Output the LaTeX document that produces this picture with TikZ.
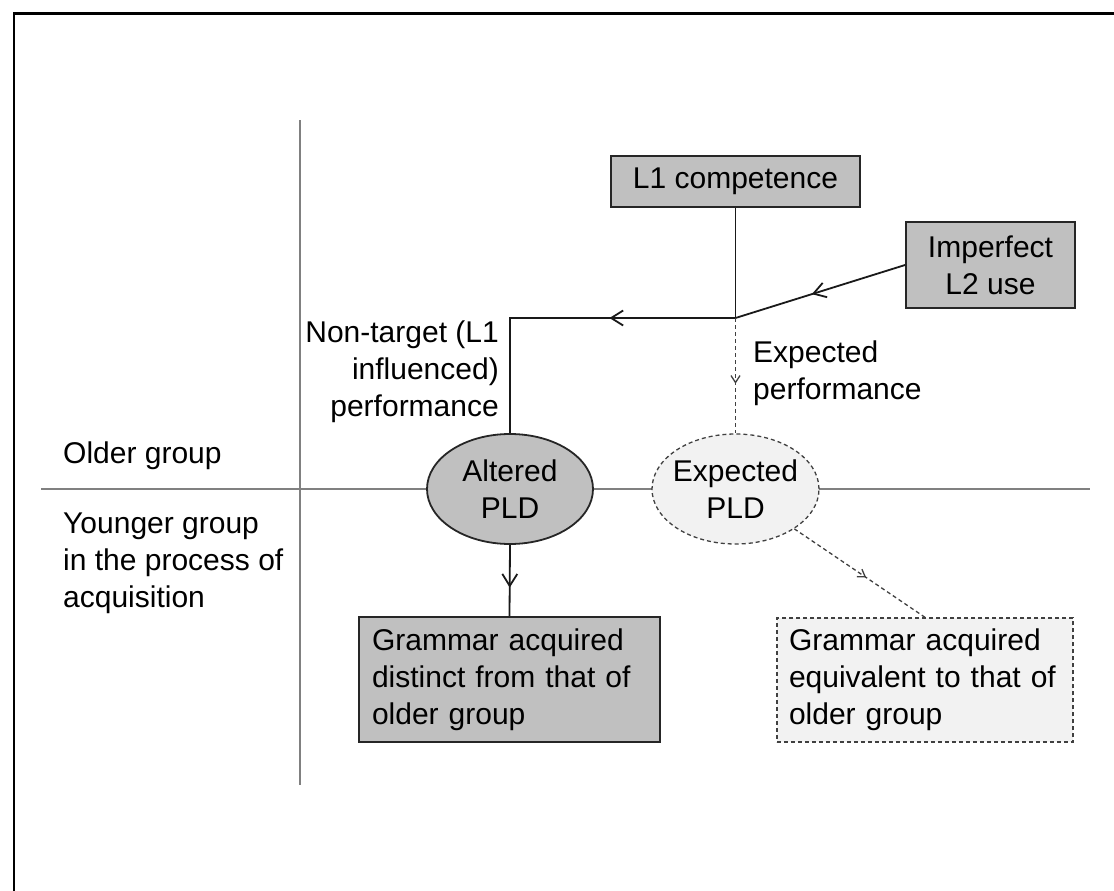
\documentclass[tikz,border=0pt]{standalone}
\usepackage{fontspec}
\setmainfont{Liberation Sans}
\usetikzlibrary{shapes.geometric,arrows.meta,decorations.markings}

\definecolor{boxgray}{HTML}{C0C0C0}
\definecolor{paleshade}{HTML}{F2F2F2}
\definecolor{axisgray}{HTML}{808080}

\tikzset{
  txt/.style={font=\fontsize{30}{37}\selectfont, text=black, inner sep=0pt},
  solidbox/.style={txt, draw=black!85, line width=1.8pt, fill=boxgray},
  dashbox/.style={txt, draw=black!75, line width=1.3pt, dash pattern=on 4pt off 3pt, fill=paleshade},
  solidell/.style={solidbox, ellipse, inner sep=-10pt, minimum width=166pt, minimum height=110pt, align=center},
  dashell/.style={dashbox, ellipse, inner sep=-10pt, minimum width=167pt, minimum height=110pt, align=center},
  conn/.style={draw=black!90, line width=1.8pt},
  dashconn/.style={draw=black!75, line width=1.3pt, dash pattern=on 4pt off 3pt},
  axisline/.style={draw=axisgray, line width=1.5pt},
  midarrow/.style={postaction={decorate, decoration={markings,
      mark=at position #1 with {\arrow[line width=1.8pt]{Straight Barb[length=12pt,width=15pt]}}}}},
  smallarrow/.style={postaction={decorate, decoration={markings,
      mark=at position #1 with {\arrow[line width=1.3pt]{Straight Barb[length=7pt,width=9pt]}}}}}
}

\begin{document}
\begin{tikzpicture}[x=1pt,y=-1pt]
\useasboundingbox (0,0) rectangle (1114,891);

% outer frame (left and top edges)
\coordinate (fbl) at (14,891);
\coordinate (ftl) at (14,13.5);
\coordinate (ftr) at (1114,13.5);
\draw[line width=2.8pt, black] (fbl) -- (ftl) -- (ftr);

% group axes
\coordinate (vtop) at (300,120);
\coordinate (vbot) at (300,785);
\coordinate (hleft) at (41,489);
\coordinate (hright) at (1090,489);
\draw[axisline] (vtop) -- (vbot);
\draw[axisline] (hleft) -- (hright);

% boxes and ellipses
\node[solidbox, minimum width=249pt, minimum height=51pt] (l1) at (735.5,181.5) {L1 competence};
\node[solidbox, minimum width=169pt, minimum height=86pt, align=center] (imp) at (990.5,265) {Imperfect\\L2 use};
\node[solidell] (alt) at (510,489) {Altered\\PLD};
\node[dashell] (exp) at (735.5,489) {Expected\\PLD};
\node[solidbox, minimum width=301pt, minimum height=125pt, text width=275pt, align=left] (gd) at (509.5,679.5)
  {Grammar acquired\\distinct from that of\\older group};
\node[dashbox, minimum width=296pt, minimum height=124pt, text width=272pt, align=left] (ge) at (925,680)
  {Grammar acquired\\equivalent to that of\\older group};

% connectors
\coordinate (lev) at (0,318);
\coordinate (j) at (l1.south |- lev);
\draw[conn] (l1.south) -- (j);
\draw[conn, midarrow=0.55] (imp.west) -- (j);
\draw[conn, midarrow=0.37] (j) -| (alt.north);
\draw[dashconn, smallarrow=0.57] (j) -- (exp.north);
\draw[conn, midarrow=0.6] (alt.south) -- (gd.north);
\draw[dashconn, smallarrow=0.55] (exp) -- (ge.north);

% labels
\node[txt, anchor=north east, align=right] (nt) at (499,321) {Non-target (L1\\influenced)\\performance};
\node[txt, anchor=north west, align=left] (ep) at (753,341) {Expected\\performance};
\node[txt, anchor=base west] (og) at (63,463) {Older group};
\node[txt, anchor=north west, align=left] (yg) at (63,513) {Younger group\\in the process of\\acquisition};
\end{tikzpicture}
\end{document}
